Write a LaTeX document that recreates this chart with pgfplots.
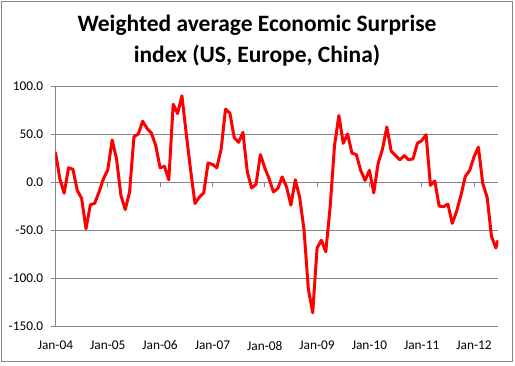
\documentclass[border=0pt]{standalone}
\usepackage{fontspec}
\setmainfont{Carlito}
\usepackage{pgfplots}
\pgfplotsset{compat=1.18}
\definecolor{gridgray}{HTML}{868686}
\pgfplotstableread{
m v
0 32
1 4
2 -11
3 15.5
4 14
5 -8
6 -16.5
7 -48
8 -23
9 -21.5
10 -9.7
11 4
12 13.4
13 44.5
14 25
15 -13
16 -28
17 -9.7
18 48
19 50.7
20 64
21 56.5
22 51.7
23 38.6
24 15.5
25 17
26 3
27 81.7
28 72
29 90.5
30 50.7
31 12.8
32 -21.7
33 -15
34 -10.7
35 20.5
36 19
37 15.5
38 35
39 76.6
40 72.4
41 47
42 42
43 52.4
44 11
45 -5.5
46 -1.7
47 29.3
48 15.5
49 4
50 -9.7
51 -6
52 6
53 -4.5
54 -23.4
55 3
56 -15
57 -49
58 -111
59 -135.5
60 -68
61 -60
62 -72
63 -25
64 38.6
65 70
66 41
67 50.7
68 30.7
69 29.3
70 12.8
71 2.4
72 12.8
73 -10.7
74 20
75 35
76 58
77 32.8
78 28.3
79 23.8
80 28.3
81 23.8
82 24.8
83 41
84 43.8
85 50
86 -2.8
87 1.7
88 -24.5
89 -25
90 -22.4
91 -42.4
92 -30
93 -13
94 6.6
95 12.8
96 27
97 37
98 -1
99 -15
100 -56
101 -68
101.5 -60
}\datatable
\begin{document}
\begin{tikzpicture}
\useasboundingbox (0,0) rectangle (386.25pt,273.75pt);
\draw[gridgray, line width=0.75pt] (1.3pt,2.5pt) rectangle (384.5pt,272.5pt);
\node[anchor=base, inner sep=0pt, font=\fontsize{17.6}{22}\selectfont\bfseries] at (192.75pt,250pt) {Weighted average Economic Surprise};
\node[anchor=base, inner sep=0pt, font=\fontsize{17.6}{22}\selectfont\bfseries] at (192.75pt,226.5pt) {index (US, Europe, China)};
% x axis line at zero with ticks
\begin{axis}[at={(41.6pt,28.75pt)}, anchor=south west, scale only axis,
  width=332.25pt, height=180pt, xmin=0, xmax=101.6, ymin=-150, ymax=100,
  axis x line=middle, axis y line=none,
  axis line style={gridgray, line width=0.75pt, -},
  xtick={0,12,...,96}, xticklabels={}, ytick=\empty,
  tick align=outside, major tick length=3.5pt,
  x tick style={gridgray, line width=0.75pt}]
\end{axis}
\begin{axis}[at={(41.6pt,28.75pt)}, anchor=south west, scale only axis,
  width=332.25pt, height=180pt, xmin=0, xmax=101.6, ymin=-150, ymax=100,
  axis x line*=bottom, axis y line*=left,
  axis line style={-},
  x axis line style={draw=none},
  y axis line style={gridgray, line width=0.75pt},
  ytick={-150,-100,...,100}, ymajorgrids,
  grid style={gridgray, line width=0.75pt},
  xtick={0,12,...,96},
  xticklabels={Jan-04,Jan-05,Jan-06,Jan-07,Jan-08,Jan-09,Jan-10,Jan-11,Jan-12},
  x tick style={draw=none},
  y tick style={gridgray, line width=0.75pt},
  tick align=outside, major tick length=3pt,
  ticklabel style={font=\fontsize{10}{12}\selectfont},
  xticklabel style={anchor=north, inner sep=0pt, yshift=-7.5pt},
  yticklabel style={anchor=east, inner sep=0pt, xshift=-6pt,
    /pgf/number format/.cd, fixed, fixed zerofill, precision=1, assume math mode=true},
  scaled y ticks=false]
\addplot[red, line width=2.25pt, line join=round, mark=none] table[x=m, y=v] {\datatable};
\end{axis}
\end{tikzpicture}
\end{document}
